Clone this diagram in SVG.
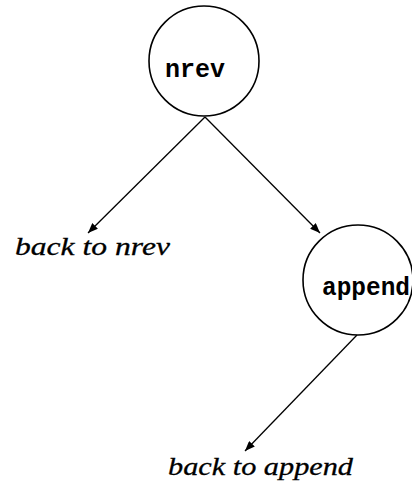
<svg xmlns="http://www.w3.org/2000/svg" width="412" height="483" viewBox="0 0 412 483">
  <style>
    .node { fill: #fff; stroke: #000; stroke-width: 1.6; }
    .code { font-family: "Liberation Mono", "DejaVu Sans Mono", monospace; font-weight: bold; font-size: 25px; fill: #000; }
    .note { font-family: "Liberation Serif", "DejaVu Serif", serif; font-style: italic; font-size: 26px; fill: #000; stroke: #000; stroke-width: 0.3; }
    .edge { stroke: #000; stroke-width: 1.3; fill: none; marker-end: url(#arrow); }
  </style>
  <defs>
    <marker id="arrow" viewBox="0 0 10 8" refX="10" refY="4" markerWidth="10" markerHeight="8" markerUnits="userSpaceOnUse" orient="auto">
      <path d="M0,0 L10,4 L0,8 Z" fill="#000"/>
    </marker>
  </defs>
  <rect width="412" height="483" fill="#fff"/>

  <g id="connectors">
    <line class="edge" x1="205" y1="117" x2="88" y2="233"/>
    <line class="edge" x1="205" y1="117" x2="320" y2="233"/>
    <line class="edge" x1="357" y1="335" x2="245" y2="451"/>
  </g>

  <g id="nrev">
    <circle class="node" cx="204" cy="61" r="55"/>
    <text class="code" x="165" y="77" textLength="60">nrev</text>
  </g>

  <g id="append">
    <circle class="node" cx="358" cy="280" r="55"/>
    <text class="code" x="322" y="295" textLength="88" lengthAdjust="spacingAndGlyphs">append</text>
  </g>

  <g id="back-to-nrev">
    <text class="note" x="15" y="255" textLength="155" lengthAdjust="spacingAndGlyphs">back to nrev</text>
  </g>

  <g id="back-to-append">
    <text class="note" x="168" y="475" textLength="185" lengthAdjust="spacingAndGlyphs">back to append</text>
  </g>
</svg>
